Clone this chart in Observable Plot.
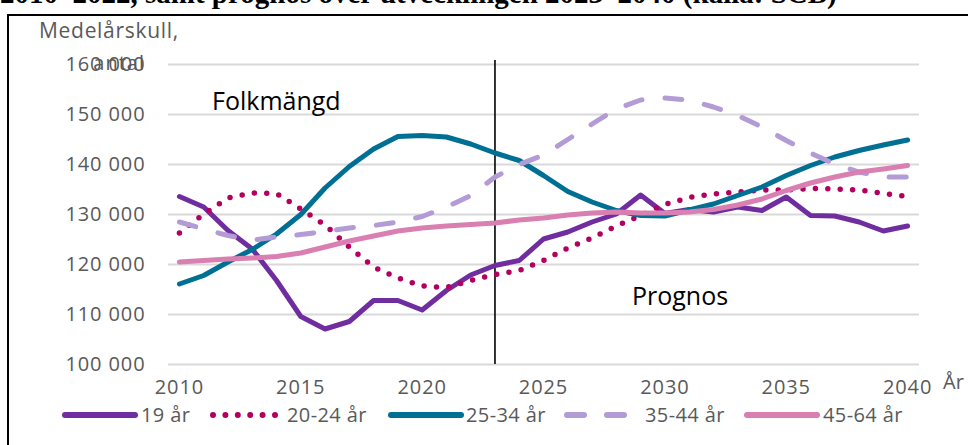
<!DOCTYPE html>
<html><head><meta charset="utf-8">
<script src="https://cdn.jsdelivr.net/npm/d3@7"></script>
<script src="https://cdn.jsdelivr.net/npm/@observablehq/plot@0.6"></script>
<style>
body{margin:0;background:#fff;width:968px;height:445px;overflow:hidden;position:relative;font-family:"Open Sans",sans-serif;}
#frame{position:absolute;left:7px;top:14px;width:990px;height:470px;border-left:2px solid #000;border-top:2px solid #000;}
#title{position:absolute;left:0;top:-21px;font:bold 29px/29px "Liberation Serif",serif;white-space:nowrap;color:#000;}
#chart{position:absolute;left:0;top:0;}
.t{position:absolute;white-space:nowrap;}
.leg{position:absolute;top:403px;font-size:20px;line-height:24px;color:#595959;letter-spacing:0.4px;}
.sw{position:absolute;top:409px;}
</style></head><body>
<div id="title">2010–2022, samt prognos över utvecklingen 2023–2040 (källa: SCB)</div>
<div id="frame"></div>
<div id="chart"></div>
<div class="t" style="left:39px;top:19px;font-size:21px;line-height:22px;color:#595959;letter-spacing:0.7px;">Medelårskull,</div>
<div class="t" style="right:823px;top:53px;font-size:20px;line-height:20px;color:#595959;letter-spacing:1px;">antal</div>
<div class="t" style="left:212px;top:88px;font-size:25px;line-height:24px;color:#000;">Folkmängd</div>
<div class="t" style="left:632px;top:283px;font-size:25px;line-height:24px;color:#000;">Prognos</div>
<div class="t" style="left:943px;top:372px;font-size:20px;line-height:20px;color:#595959;">År</div>
<div id="legend"></div>
<script>
const years = [2010,2011,2012,2013,2014,2015,2016,2017,2018,2019,2020,2021,2022,2023,2024,2025,2026,2027,2028,2029,2030,2031,2032,2033,2034,2035,2036,2037,2038,2039,2040];
const seriesNames = ["19 år","20-24 år","25-34 år","35-44 år","45-64 år"];
const v19 = [133600,131500,126800,123100,116800,109600,107100,108600,112800,112800,110900,114800,117900,119800,120800,125100,126500,128500,130100,133900,130200,131000,130500,131500,130800,133500,129800,129700,128500,126700,127700];
const v20_24 = [126300,130100,133300,134300,134200,131100,127900,123500,119500,117300,115700,115400,116800,118000,118800,120800,123300,125300,127700,129800,132000,133400,134100,134500,134900,134900,135200,135100,134900,134200,133600];
const v25_34 = [116100,117800,120500,123000,126100,130000,135300,139600,143100,145600,145800,145500,144100,142300,140800,137800,134600,132500,130800,129800,129700,130900,132100,133800,135500,137800,139800,141500,142800,143900,144900];
const v35_44 = [128500,127100,125800,124900,125500,126000,126600,127300,127800,128500,129600,131500,133800,137500,140000,141900,145000,148100,151100,152900,153300,152900,151500,149800,147500,144800,142300,140100,138500,137500,137500];
const v45_64 = [120500,120800,121100,121300,121600,122300,123500,124700,125700,126700,127300,127700,128000,128300,128900,129300,129900,130300,130500,130300,130300,130500,131000,131900,133100,134800,136300,137500,138500,139100,139800];
const xTicks = [2010,2015,2020,2025,2030,2035,2040];
const yTicks = [100000,110000,120000,130000,140000,150000,160000];
const forecastStart = [2023];

const seriesValues = [v19, v20_24, v25_34, v35_44, v45_64];
const colors = ["#6f2da0","#b3005e","#006f94","#b39bd6","#da7fb1"];
const dashes = [null, "0 12.4", null, "17 23", null];
const widths = [5, 5.5, 5, 5, 5];

const fmt = d => d3.format(",")(d).replace(/,/g, " ");

const lineMarks = seriesValues.map((vals, i) => {
  const data = years.map((y, j) => ({year: y, value: vals[j]}));
  return Plot.line(data, {x: "year", y: "value", stroke: colors[i], strokeWidth: widths[i],
    strokeDasharray: dashes[i] || undefined, strokeLinecap: "round", strokeLinejoin: "round"});
});

const chart = Plot.plot({
  width: 968, height: 445,
  marginLeft: 168, marginRight: 49, marginTop: 64, marginBottom: 81,
  style: {fontFamily: "'Open Sans', sans-serif", fontSize: "20px", color: "#595959", background: "transparent", overflow: "visible", letterSpacing: "0.9px"},
  x: {domain: [2009.55, 2040.49], ticks: xTicks, tickFormat: d => String(d), tickSize: 0, tickPadding: 15, label: null},
  y: {domain: [100000, 160000], ticks: yTicks, tickFormat: fmt, tickSize: 0, tickPadding: 23, label: null},
  marks: [
    Plot.ruleY(yTicks, {stroke: "#d9d9d9", strokeWidth: 2}),
    Plot.ruleX(forecastStart, {y1: 100000, y2: 160800, stroke: "#000", strokeWidth: 1.6}),
    ...lineMarks
  ]
});
document.getElementById("chart").appendChild(chart);

// legend (layout positions only)
const swatchLeft = [62, 210, 388, 564, 744];
const textLeft = [141, 287, 466, 645, 823];
const legend = document.getElementById("legend");
const ns = "http://www.w3.org/2000/svg";
seriesNames.forEach((name, i) => {
  const s = document.createElementNS(ns, "svg");
  s.setAttribute("class", "sw");
  s.setAttribute("width", 76); s.setAttribute("height", 12);
  s.style.left = swatchLeft[i] + "px";
  const l = document.createElementNS(ns, "line");
  l.setAttribute("x1", 3); l.setAttribute("x2", 73); l.setAttribute("y1", 6); l.setAttribute("y2", 6);
  l.setAttribute("stroke", colors[i]); l.setAttribute("stroke-width", 6);
  l.setAttribute("stroke-linecap", "round");
  if (dashes[i]) l.setAttribute("stroke-dasharray", dashes[i]);
  s.appendChild(l);
  legend.appendChild(s);
  const t = document.createElement("div");
  t.className = "leg";
  t.style.left = textLeft[i] + "px";
  t.textContent = name;
  legend.appendChild(t);
});
</script>
</body></html>
